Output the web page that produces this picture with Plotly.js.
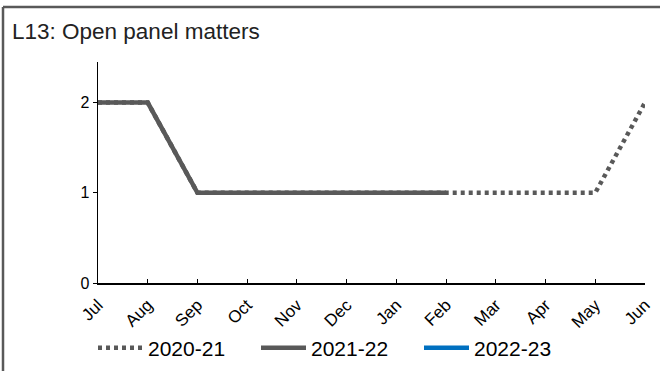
<!DOCTYPE html>
<html><head><meta charset="utf-8">
<script src="https://cdn.plot.ly/plotly-3.0.1.min.js"></script>
<style>body{margin:0;background:#fff}#chart{width:660px;height:371px}</style>
</head><body><div id="chart"></div>
<script>
const months = ["Jul","Aug","Sep","Oct","Nov","Dec","Jan","Feb","Mar","Apr","May","Jun"];
const s2020_21 = [2,2,1,1,1,1,1,1,1,1,1,2];
const s2021_22 = [2,2,1,1,1,1,1,1,null,null,null,null];
const s2022_23 = [null,null,null,null,null,null,null,null,null,null,null,null];

const gray = "#595959";
const traces = [
  {x: months, y: s2020_21, name: "2020-21", type: "scatter", mode: "lines",
   line: {color: gray, width: 4.5, dash: "4px,4px"}},
  {x: months, y: s2021_22, name: "2021-22", type: "scatter", mode: "lines",
   line: {color: gray, width: 4.5}},
  {x: months, y: s2022_23, name: "2022-23", type: "scatter", mode: "lines",
   line: {color: "#0070C0", width: 4.5}}
];
const W = 547, H = 221, L = 98, T = 62;
const layout = {
  width: 660, height: 371, autosize: false,
  margin: {l: L, r: 15, t: T, b: 88},
  paper_bgcolor: "#fff", plot_bgcolor: "#fff",
  font: {family: "Liberation Sans, Arial, sans-serif", size: 15, color: "#000"},
  title: {text: "L13: Open panel matters", x: 12/660, xref: "container", xanchor: "left",
          y: 1 - 31/371, yref: "container", yanchor: "middle",
          font: {size: 22.5, color: "#222"}},
  xaxis: {type: "category", range: [0, 11], showgrid: false, zeroline: false,
          showline: true, linecolor: "#000", linewidth: 1.5,
          ticks: "inside", ticklen: 4, tickcolor: "#000", tickangle: -45,
          ticklabelstandoff: 4, tickfont: {size: 17}},
  yaxis: {range: [0, 2.45], tickvals: [0,1,2], showgrid: false, zeroline: false,
          showline: true, linecolor: "#000", linewidth: 1.5,
          ticks: "outside", ticklen: 4, tickcolor: "#000", tickfont: {size: 16}},
  showlegend: true,
  legend: {orientation: "h", xref: "container", x: 93/660, xanchor: "left",
           yref: "container", y: 1 - 348/371, yanchor: "middle",
           itemwidth: 45, entrywidth: 103, entrywidthmode: "pixels", font: {size: 21},
           bgcolor: "rgba(0,0,0,0)"},
  shapes: [
    {type: "line", xref: "paper", yref: "paper", x0: (3-L)/W, x1: 1.2, y0: (T+H-7)/H, y1: (T+H-7)/H,
     line: {color: gray, width: 2.5}},
    {type: "line", xref: "paper", yref: "paper", x0: (3-L)/W, x1: (3-L)/W, y0: (T+H-7)/H, y1: -0.5,
     line: {color: gray, width: 2.5}}
  ]
};
Plotly.newPlot("chart", traces, layout, {displayModeBar: false, staticPlot: true});
</script></body></html>
